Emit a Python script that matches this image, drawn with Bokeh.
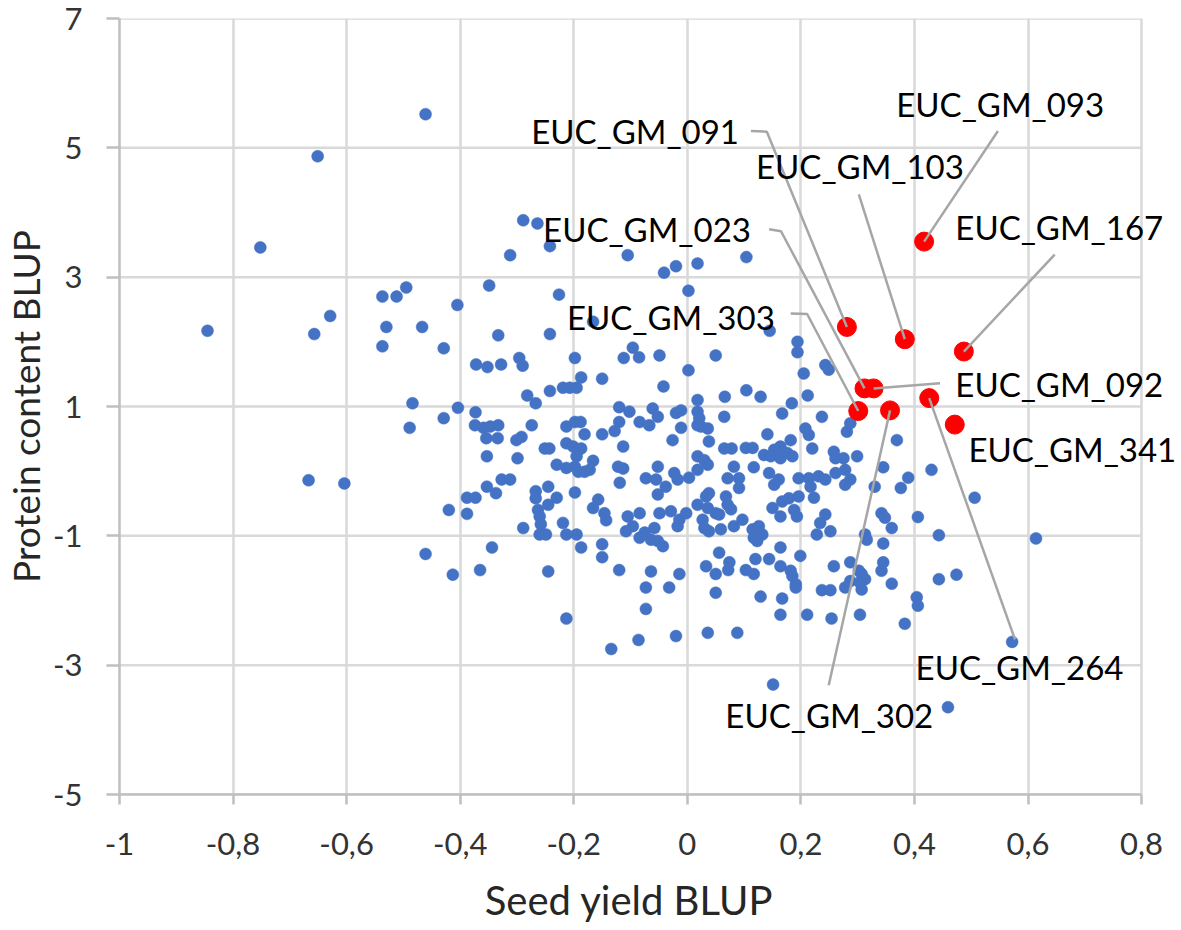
from bokeh.plotting import figure
from bokeh.models import FixedTicker, CustomJSTickFormatter, Range1d, Label
from bokeh.embed import file_html
from bokeh.resources import INLINE

# ---- data: blue points (Seed yield BLUP, Protein content BLUP) ----
blue_x = [
    -0.461, -0.651, -0.752, -0.495, -0.537, -0.512, -0.405, -0.629, -0.845, -0.657, -0.530, -0.467,
    -0.537, -0.429, -0.484, -0.404, -0.429, -0.489, -0.667, -0.604, -0.420, -0.461, -0.413,
    -0.289, -0.264, -0.312, -0.242, -0.105, -0.041, -0.020, 0.018, 0.104, -0.349, -0.226, 0.002,
    -0.333, -0.242, -0.166, 0.145, 0.194, 0.194, -0.372, -0.352, -0.328, -0.296, -0.290, -0.198,
    -0.112, -0.096, -0.085, -0.049, 0.050, 0.002, -0.187, -0.150, -0.042, -0.282, -0.242, -0.219,
    -0.207, -0.195, -0.267, 0.018, 0.066, 0.104, 0.129, 0.184,
    -0.373, -0.374, -0.359, -0.347, -0.333, -0.354, -0.334, -0.274, -0.301, -0.292, -0.353, -0.299,
    -0.251, -0.243, -0.213, -0.198, -0.188, -0.181, -0.213, -0.201, -0.187, -0.230, -0.213, -0.198,
    -0.192, -0.181, -0.172, -0.166, -0.195, -0.150, -0.128, -0.120, -0.120, -0.102, -0.084, -0.067,
    -0.061, -0.052, -0.113, -0.122, -0.113, -0.119, -0.073, -0.055, -0.052, -0.388, -0.373, -0.353,
    -0.337, -0.327, -0.312, -0.267, -0.267, -0.245, -0.230, -0.245, -0.263, -0.260, -0.258, -0.289,
    -0.388, -0.198, -0.157, -0.166, -0.146, -0.143, -0.219, -0.213, -0.195, -0.260, -0.249, -0.105,
    -0.084, -0.096, -0.108, -0.075, -0.064, -0.058, -0.052, -0.344, -0.187, -0.150, -0.150, -0.084,
    -0.020, -0.011, -0.011, 0.018, 0.021, 0.018, 0.024, 0.036, 0.065, -0.026, 0.038, 0.065,
    0.078, 0.103, 0.115, 0.141, 0.167, 0.237, 0.208, 0.214, 0.281, 0.182, 0.164, 0.153,
    0.135, 0.147, 0.164, 0.176, 0.185, 0.220, 0.258, 0.261, 0.275, 0.018, 0.030, 0.036,
    0.018, 0.003, -0.052, -0.038, -0.023, -0.017, 0.082, 0.117, 0.071, 0.091, 0.091, 0.144,
    0.153, 0.161, 0.196, 0.214, 0.231, 0.243, 0.217, 0.223, 0.261, 0.278, 0.278, 0.287,
    0.038, 0.033, 0.018, 0.036, 0.050, 0.068, 0.071, 0.077, -0.049, -0.029, -0.014, -0.002,
    -0.017, 0.027, 0.030, 0.038, 0.059, 0.056, 0.082, 0.097, 0.115, 0.117, 0.126, 0.132,
    0.123, 0.150, 0.167, 0.179, 0.196, 0.164, 0.188, 0.193, 0.243, 0.234, 0.228, 0.252,
    0.164, 0.199, 0.056, -0.043,
    0.287, 0.369, 0.299, 0.345, 0.330, 0.389, 0.376, 0.430, 0.506, 0.342, 0.348, 0.360,
    0.406, 0.313, 0.316, 0.345, 0.443, 0.614,
    -0.365, -0.245, -0.120, -0.064, -0.073, -0.073, -0.213, -0.086, -0.134,
    -0.014, -0.032, -0.020, 0.033, 0.050, 0.074, 0.072, 0.050, 0.036, 0.088, 0.103, 0.117,
    0.120, 0.144, 0.164, 0.182, 0.185, 0.191, 0.191, 0.129, 0.167, 0.164, 0.211, 0.258,
    0.287, 0.287, 0.237, 0.252, 0.278, 0.254, 0.151,
    0.302, 0.307, 0.313, 0.304, 0.307, 0.345, 0.342, 0.360, 0.304, 0.383, 0.404, 0.406,
    0.443, 0.474, 0.572, 0.459,
    0.243, 0.249, 0.205, 0.212,
]
blue_y = [
    5.52, 4.87, 3.46, 2.84, 2.70, 2.70, 2.57, 2.40, 2.17, 2.12, 2.23, 2.23,
    1.93, 1.90, 1.05, 0.98, 0.82, 0.67, -0.14, -0.19, -0.60, -1.28, -1.60,
    3.88, 3.83, 3.34, 3.48, 3.34, 3.07, 3.17, 3.21, 3.31, 2.87, 2.73, 2.79,
    2.10, 2.12, 2.31, 2.17, 2.00, 1.84, 1.65, 1.61, 1.65, 1.75, 1.63, 1.75,
    1.75, 1.91, 1.76, 1.79, 1.79, 1.56, 1.45, 1.43, 1.31, 1.17, 1.24, 1.29,
    1.29, 1.29, 1.05, 1.10, 1.15, 1.25, 1.15, 1.05,
    0.91, 0.71, 0.67, 0.69, 0.71, 0.51, 0.51, 0.71, 0.48, 0.53, 0.23, 0.20,
    0.35, 0.35, 0.69, 0.76, 0.76, 0.57, 0.43, 0.38, 0.35, 0.10, 0.05, 0.07,
    -0.01, -0.01, 0.02, 0.16, 0.23, 0.57, 0.62, 0.76, 0.99, 0.92, 0.76, 0.71,
    0.97, 0.84, 0.38, 0.07, 0.04, -0.18, -0.11, -0.13, -0.36, -0.41, -0.41, -0.24,
    -0.34, -0.13, -0.13, -0.31, -0.42, -0.24, -0.41, -0.52, -0.60, -0.70, -0.82, -0.88,
    -0.66, -0.33, -0.44, -0.57, -0.65, -0.76, -0.80, -0.98, -0.98, -0.98, -0.98, -0.70,
    -0.65, -0.85, -0.93, -0.95, -1.06, -0.88, -1.08, -1.18, -1.18, -1.13, -1.33, -1.03,
    0.90, 0.94, 0.67, 0.92, 0.82, 0.71, 0.69, 0.66, 0.84, 0.48, 0.46, 0.35,
    0.35, 0.36, 0.36, 0.57, 0.89, 0.84, 0.66, 0.56, 0.61, 0.48, 0.38, 0.33,
    0.25, 0.23, 0.20, 0.28, 0.23, 0.35, 0.30, 0.20, 0.20, 0.23, 0.17, 0.10,
    0.02, -0.10, 0.07, -0.24, -0.03, -0.13, 0.07, 0.06, -0.11, -0.11, -0.26, -0.03,
    -0.21, -0.13, -0.11, -0.11, -0.08, -0.13, -0.24, -0.41, -0.03, 0.02, -0.21, -0.13,
    -0.34, -0.39, -0.52, -0.57, -0.65, -0.39, -0.52, -0.59, -0.65, -0.62, -0.75, -0.65,
    -0.85, -0.75, -0.88, -0.93, -0.90, -0.67, -0.85, -0.75, -0.90, -1.03, -0.85, -0.98,
    -1.08, -0.57, -0.47, -0.42, -0.39, -0.70, -0.60, -0.70, -0.67, -0.80, -0.98, -0.93,
    -1.18, -1.31, -1.26, -1.16,
    0.74, 0.48, 0.23, 0.06, -0.24, -0.10, -0.26, 0.02, -0.41, -0.65, -0.72, -0.88,
    -0.71, -0.98, -1.06, -1.12, -0.99, -1.04,
    -1.53, -1.55, -1.53, -1.55, -1.80, -2.13, -2.28, -2.61, -2.75,
    -1.59, -1.80, -2.55, -1.47, -1.59, -1.41, -1.53, -1.88, -2.50, -2.50, -1.53, -1.59,
    -1.36, -1.36, -1.47, -1.54, -1.62, -1.75, -1.80, -1.94, -1.97, -2.22, -2.22, -1.47,
    -1.41, -1.70, -1.84, -1.84, -1.80, -2.28, -3.30,
    -1.54, -1.59, -1.67, -1.72, -1.83, -1.41, -1.54, -1.74, -2.22, -2.36, -1.95, -2.08,
    -1.67, -1.60, -2.64, -3.65,
    1.64, 1.57, 1.51, 1.17,
]

# ---- data: highlighted genotypes ----
red_names = ["EUC_GM_091", "EUC_GM_093", "EUC_GM_103", "EUC_GM_167", "EUC_GM_023",
             "EUC_GM_092", "EUC_GM_303", "EUC_GM_302", "EUC_GM_264", "EUC_GM_341"]
red_x = [0.281, 0.417, 0.383, 0.487, 0.312, 0.328, 0.301, 0.357, 0.426, 0.471]
red_y = [2.23, 3.55, 2.04, 1.85, 1.28, 1.28, 0.93, 0.94, 1.13, 0.72]

x_ticks = [-1, -0.8, -0.6, -0.4, -0.2, 0, 0.2, 0.4, 0.6, 0.8]
y_ticks = [-5, -3, -1, 1, 3, 5, 7]

# ---- label placement (annotation layout) ----
# name: (text x, text y, align, leader path points before reaching the marker)
label_layout = {
    "EUC_GM_091": (0.091, 5.26, "right", [(0.112, 5.26), (0.140, 5.25)]),
    "EUC_GM_093": (0.368, 5.68, "left", [(0.547, 5.26)]),
    "EUC_GM_103": (0.121, 4.72, "left", [(0.302, 4.28)]),
    "EUC_GM_167": (0.472, 3.77, "left", [(0.647, 3.35)]),
    "EUC_GM_023": (0.112, 3.74, "right", [(0.144, 3.74), (0.165, 3.71)]),
    "EUC_GM_092": (0.472, 1.35, "left", [(0.445, 1.36)]),
    "EUC_GM_303": (0.154, 2.38, "right", [(0.182, 2.44), (0.211, 2.43)]),
    "EUC_GM_302": (0.067, -3.77, "left", [(0.249, -3.31)]),
    "EUC_GM_264": (0.402, -3.03, "left", [(0.577, -2.60)]),
    "EUC_GM_341": (0.495, 0.35, "left", []),
}

FONT = "Lato"
GRID = "#d9d9d9"
X_MIN, X_MAX = x_ticks[0], x_ticks[-1]
X_VIEW_MAX = 0.865   # extra room on the right so the data labels are not cut

p = figure(
    width=1179, height=926,
    x_range=Range1d(X_MIN, X_VIEW_MAX), y_range=Range1d(y_ticks[0], y_ticks[-1]),
    output_backend="svg", toolbar_location=None,
    min_border_left=117, min_border_right=1, min_border_top=18, min_border_bottom=128,
    background_fill_color="white", border_fill_color="white",
)
p.outline_line_color = None

for ax, ticks in ((p.xaxis[0], x_ticks), (p.yaxis[0], y_ticks)):
    ax.ticker = FixedTicker(ticks=ticks)
    ax.axis_line_color = "#bfbfbf"
    ax.axis_line_width = 2.5
    ax.major_tick_line_color = "#bfbfbf"
    ax.major_tick_line_width = 2.5
    ax.major_tick_in = 0
    ax.minor_tick_line_color = None
    ax.major_label_text_font = FONT
    ax.major_label_text_font_size = "31px"
    ax.major_label_text_color = "#333333"
    ax.axis_label_text_font = FONT
    ax.axis_label_text_font_style = "normal"
    ax.axis_label_text_color = "#262626"

p.xaxis.bounds = (X_MIN, X_MAX)
p.xaxis.axis_label_text_font_size = "40px"
p.yaxis.axis_label_text_font_size = "37px"
p.xaxis.major_tick_out = 10
p.yaxis.major_tick_out = 13
p.xaxis.major_label_standoff = 28
p.yaxis.major_label_standoff = 24
# trailing no-break spaces keep the title centred under -1..0,8 rather than the wider frame
p.xaxis.axis_label = "Seed yield BLUP" + "\u00a0" * 4
p.yaxis.axis_label = "Protein content BLUP"
p.xaxis.axis_label_standoff = 18
p.yaxis.axis_label_standoff = 2
p.xaxis.formatter = CustomJSTickFormatter(
    code="return String(Math.round(tick * 10) / 10).replace('.', ',');")
p.yaxis.formatter = CustomJSTickFormatter(code="return String(Math.round(tick));")

# vertical gridlines from the grid, horizontal ones limited to the axis extent
p.xgrid.ticker = FixedTicker(ticks=x_ticks)
p.xgrid.grid_line_color = GRID
p.xgrid.grid_line_width = 2.5
p.ygrid.grid_line_color = None
p.segment(x0=[X_MIN] * len(y_ticks), y0=y_ticks, x1=[X_MAX] * len(y_ticks), y1=y_ticks,
          line_color=GRID, line_width=2.5, level="underlay")

p.scatter(blue_x, blue_y, size=12, fill_color="#4472C4", line_color="#4472C4", line_width=0.5)
p.scatter(red_x, red_y, size=19, fill_color="#FF0000", line_color="#FF0000")

lead_xs, lead_ys = [], []
for name, rx, ry in zip(red_names, red_x, red_y):
    tx, ty, align, path = label_layout[name]
    if path:
        lead_xs.append([pt[0] for pt in path] + [rx])
        lead_ys.append([pt[1] for pt in path] + [ry])
    p.add_layout(Label(x=tx, y=ty, text=name, text_align=align, text_baseline="middle",
                       text_font=FONT, text_font_size="33px", text_color="#000000"))

p.multi_line(lead_xs, lead_ys, line_color="#a6a6a6", line_width=2.5)

open("out.html", "w").write(file_html(p, INLINE))
